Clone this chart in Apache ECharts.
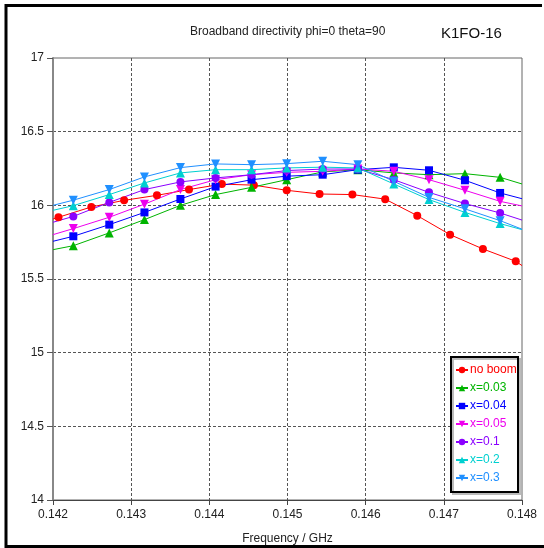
<!DOCTYPE html>
<html>
<head>
<meta charset="utf-8">
<script src="https://cdn.jsdelivr.net/npm/echarts@6/dist/echarts.min.js"></script>
<style>
  html, body { margin: 0; padding: 0; background: #fff; }
  #chart { width: 544px; height: 548px; }
</style>
</head>
<body>
<div id="chart"></div>
<script>
// frequency in GHz, first/last entries are the curve ends at the plot edges (no marker)
const freqRed = [0.142, 0.14207, 0.14249, 0.14291, 0.14333, 0.14374, 0.14416, 0.14457, 0.14499,
  0.14541, 0.14583, 0.14625, 0.14666, 0.14708, 0.14750, 0.14792, 0.148];
const freqX = [0.142, 0.14226, 0.14272, 0.14317, 0.14363, 0.14408, 0.14454, 0.14499, 0.14545,
  0.14590, 0.14636, 0.14681, 0.14727, 0.14772, 0.148];

const noBoom = [15.907, 15.919, 15.989, 16.034, 16.068, 16.107, 16.144, 16.137, 16.102,
  16.077, 16.073, 16.042, 15.930, 15.801, 15.704, 15.620, 15.591];
const x003 = [15.699, 15.726, 15.813, 15.903, 16.000, 16.073, 16.122, 16.174, 16.227,
  16.242, 16.220, 16.208, 16.215, 16.190, 16.145];
const x004 = [15.756, 15.790, 15.869, 15.952, 16.043, 16.127, 16.174, 16.198, 16.208,
  16.242, 16.258, 16.238, 16.170, 16.084, 16.045];
const x005 = [15.801, 15.842, 15.919, 16.008, 16.107, 16.174, 16.208, 16.224, 16.231,
  16.247, 16.231, 16.174, 16.102, 16.027, 15.996];
const x01 = [15.885, 15.925, 16.020, 16.107, 16.159, 16.186, 16.208, 16.236, 16.246,
  16.247, 16.174, 16.088, 16.012, 15.948, 15.900];
const x02 = [15.966, 15.998, 16.073, 16.152, 16.220, 16.242, 16.242, 16.254, 16.259,
  16.254, 16.145, 16.039, 15.952, 15.876, 15.835];
const x03 = [16.000, 16.035, 16.107, 16.193, 16.256, 16.281, 16.276, 16.283, 16.299,
  16.276, 16.163, 16.054, 15.976, 15.896, 15.838];

const xTicks = [0.142, 0.143, 0.144, 0.145, 0.146, 0.147, 0.148];

const chart = echarts.init(document.getElementById('chart'));

function makeSeries(name, freq, vals, color, symbol, size, rotate) {
  const last = vals.length - 1;
  return {
    name,
    type: 'line',
    symbol,
    symbolSize: size,
    symbolRotate: rotate || 0,
    showAllSymbol: true,
    animation: false,
    lineStyle: { color, width: 1 },
    itemStyle: { color },
    data: vals.map((v, i) => {
      const item = { value: [freq[i], v] };
      if (i === 0 || i === last) item.symbol = 'none';
      return item;
    }),
  };
}

const seriesList = [
  makeSeries('no boom', freqRed, noBoom, '#ff0000', 'circle', 8),
  makeSeries('x=0.03', freqX, x003, '#00b400', 'triangle', 9),
  makeSeries('x=0.04', freqX, x004, '#0000ff', 'rect', 8),
  makeSeries('x=0.05', freqX, x005, '#ee00ee', 'triangle', 9, 180),
  makeSeries('x=0.1', freqX, x01, '#8a00ff', 'circle', 8),
  makeSeries('x=0.2', freqX, x02, '#00d0d0', 'triangle', 9),
  makeSeries('x=0.3', freqX, x03, '#2090ff', 'triangle', 9, 180),
];

const font = 'Liberation Sans';

const option = {
  backgroundColor: '#fff',
  animation: false,
  grid: {
    left: 53,
    right: 22,
    top: 58,
    bottom: 48,
    show: true,
    borderColor: '#666',
    borderWidth: 1,
    containLabel: false,
    outerBoundsMode: 'none',
  },
  xAxis: {
    type: 'value',
    min: 0.142,
    max: 0.148,
    interval: 0.001,
    name: 'Frequency / GHz',
    nameLocation: 'middle',
    nameGap: 33,
    nameTextStyle: { fontFamily: font, fontSize: 12, color: '#222' },
    axisLine: { show: true, lineStyle: { color: '#444', width: 1 } },
    axisTick: { show: true, inside: false, length: 5, lineStyle: { color: '#444' } },
    axisLabel: {
      margin: 9,
      fontFamily: font,
      fontSize: 12,
      color: '#222',
      formatter: v => xTicks.find(t => Math.abs(t - v) < 1e-7).toFixed(3),
    },
    splitLine: {
      show: true,
      showMinLine: false,
      showMaxLine: false,
      lineStyle: { color: '#555', type: [3, 2], width: 1 },
    },
  },
  yAxis: {
    type: 'value',
    min: 14,
    max: 17,
    interval: 0.5,
    axisLine: { show: true, lineStyle: { color: '#888', width: 2 } },
    axisTick: { show: true, inside: false, length: 6, lineStyle: { color: '#555' } },
    axisLabel: { margin: 9, fontFamily: font, fontSize: 12, color: '#222' },
    splitLine: {
      show: true,
      showMinLine: false,
      showMaxLine: false,
      lineStyle: { color: '#555', type: [3, 2], width: 1 },
    },
  },
  legend: {
    orient: 'vertical',
    left: 455,
    top: 364,
    padding: 0,
    itemGap: 6,
    itemWidth: 12,
    itemHeight: 8,
    z: 10,
    textStyle: { fontFamily: font, fontSize: 12, padding: [0, 0, 0, -3] },
    data: seriesList.map(s => ({ name: s.name, textStyle: { color: s.itemStyle.color } })),
  },
  graphic: [
    // legend box
    {
      type: 'rect',
      z: 5,
      shape: { x: 451, y: 357, width: 67, height: 135 },
      style: {
        fill: '#fff', stroke: '#000', lineWidth: 2,
        shadowColor: '#bbb', shadowOffsetX: 2, shadowOffsetY: 2,
      },
    },
    // outer frame
    { type: 'line', z: 20, shape: { x1: 6, y1: 4, x2: 6, y2: 548 }, style: { stroke: '#000', lineWidth: 3 } },
    { type: 'line', z: 20, shape: { x1: 5, y1: 5.5, x2: 542, y2: 5.5 }, style: { stroke: '#000', lineWidth: 3 } },
    { type: 'line', z: 20, shape: { x1: 5, y1: 546.5, x2: 544, y2: 546.5 }, style: { stroke: '#000', lineWidth: 3 } },
    {
      type: 'text', left: 190, top: 26, z: 20,
      style: { text: 'Broadband directivity phi=0 theta=90', fontFamily: font, fontSize: 12, fill: '#222' },
    },
    {
      type: 'text', left: 441, top: 26, z: 20,
      style: { text: 'K1FO-16', fontFamily: font, fontSize: 15, fill: '#111' },
    },
  ],
  series: seriesList,
};

chart.setOption(option);
</script>
</body>
</html>
